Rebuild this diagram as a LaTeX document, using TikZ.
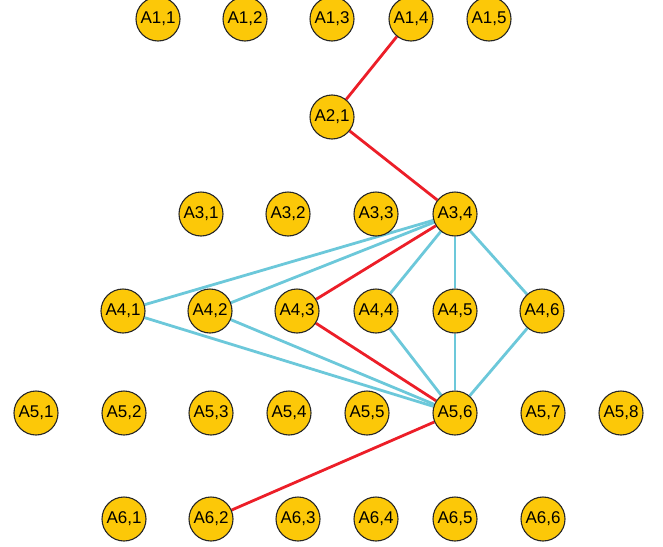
\documentclass[tikz,border=0pt]{standalone}
\usepackage{fontspec}
\setmainfont{Liberation Sans}
\usepackage{tikz}
\usetikzlibrary{backgrounds}
\definecolor{vtxyellow}{RGB}{252,200,8}
\definecolor{pathred}{RGB}{236,30,40}
\definecolor{linkcyan}{RGB}{108,200,218}

\begin{document}
\begin{tikzpicture}[x=1pt,y=-1pt,
		vtx/.style={circle,draw=black!85,line width=1.1pt,fill=vtxyellow,minimum size=44pt,inner sep=0pt,font=\fontsize{17}{17}\selectfont},
		redl/.style={draw=pathred,line width=2.8pt},
		cyanl/.style={draw=linkcyan,line width=2.8pt}]
				\useasboundingbox (0,0) rectangle (663,546);
				% row 1
				\foreach \c/\x in {1/158,2/245,3/332,4/411,5/489}{
					\node[vtx] (a1\c) at (\x,19) {A1,\c};
				}
				% row 2
				\node[vtx] (a21) at (332,117) {A2,1};
				% row 3
				\foreach \c/\x in {1/201,2/288,3/376,4/455}{
					\node[vtx] (a3\c) at (\x,214) {A3,\c};
				}
				% row 4
				\foreach \c/\x in {1/123,2/210,3/297,4/376,5/455,6/542}{
					\node[vtx] (a4\c) at (\x,311) {A4,\c};
				}
				% row 5
				\foreach \c/\x in {1/36,2/124,3/211,4/289,5/367,6/455,7/543,8/621}{
					\node[vtx] (a5\c) at (\x,413) {A5,\c};
				}
				% row 6
				\foreach \c/\x in {1/124,2/211,3/298,4/376,5/455,6/543}{
					\node[vtx] (a6\c) at (\x,519) {A6,\c};
				}
				\begin{scope}[on background layer]
					% cyan links
					\foreach \c in {1,2,4,5,6}{
						\draw[cyanl] (a34) -- (a4\c);
						\draw[cyanl] (a4\c) -- (a56);
					}
					% red path
					\draw[redl] (a14) -- (a21) -- (a34) -- (a43) -- (a56) -- (a62);
				\end{scope}
			\end{tikzpicture}
\end{document}
